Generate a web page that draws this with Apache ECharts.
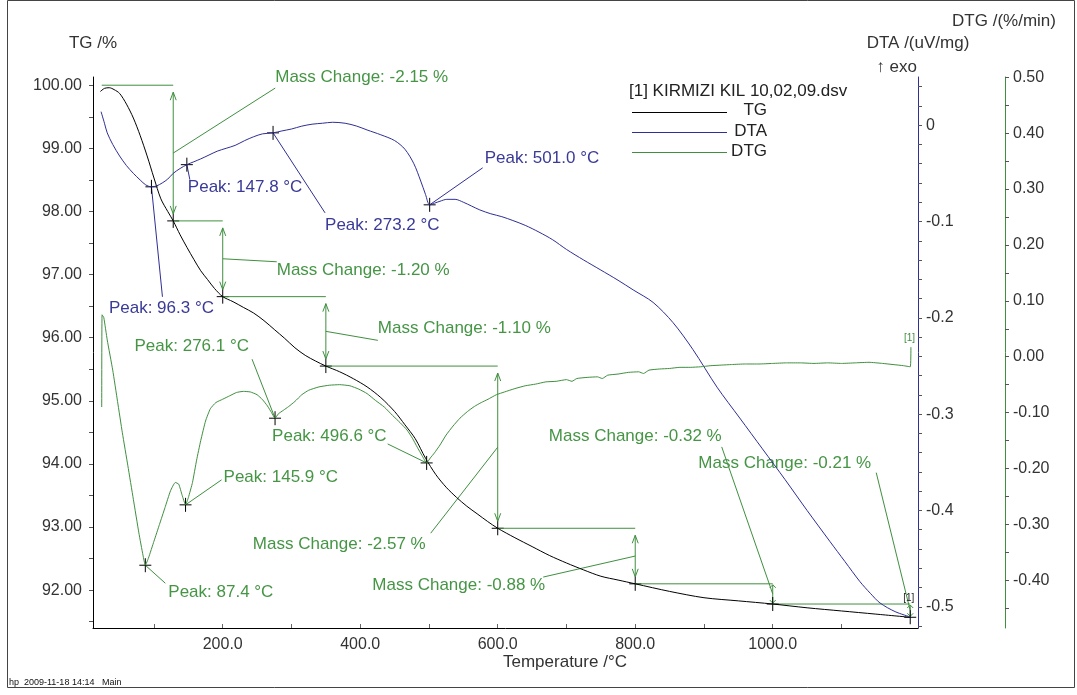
<!DOCTYPE html>
<html>
<head>
<meta charset="utf-8">
<title>KIRMIZI KIL TG / DTA / DTG</title>
<script src="https://cdn.jsdelivr.net/npm/echarts@6/dist/echarts.min.js"></script>
<style>
  html, body { margin: 0; padding: 0; background: #ffffff; }
  #chart { width: 1077px; height: 695px; }
</style>
</head>
<body>
<div id="chart"></div>
<script>
// ---- Thermal analysis data (temperature in °C) ----
const tgTemp = [22, 28, 35, 42, 50, 60, 70, 80, 90, 100, 110, 120, 128, 138, 148, 158, 168, 178, 188, 200,
  215, 230, 245, 260, 275, 290, 305, 320, 335, 350, 370, 390, 410, 430, 450, 465, 480, 495, 510, 525,
  540, 555, 570, 585, 600, 625, 650, 675, 700, 725, 750, 775, 800, 850, 900, 950, 1000, 1050, 1100, 1150, 1200];
const tgValue = [99.90, 99.95, 99.96, 99.93, 99.87, 99.70, 99.48, 99.20, 98.88, 98.53, 98.20, 98.00, 97.85, 97.63, 97.43, 97.24, 97.06, 96.92, 96.78, 96.65,
  96.57, 96.48, 96.39, 96.27, 96.13, 95.99, 95.84, 95.72, 95.63, 95.55, 95.46, 95.35, 95.22, 95.05, 94.83, 94.62, 94.40, 94.09, 93.83, 93.63,
  93.47, 93.33, 93.21, 93.09, 92.98, 92.83, 92.69, 92.55, 92.43, 92.32, 92.22, 92.16, 92.10, 91.98, 91.88, 91.83, 91.78, 91.72, 91.67, 91.62, 91.57];

const dtaTemp = [23, 28, 32, 40, 50, 60, 70, 80, 88, 96.3, 104, 112, 120, 128, 138, 147.8, 158, 168, 180, 192,
  205, 218, 232, 245, 258, 273.2, 286, 300, 315, 330, 345, 360, 378, 395, 410, 430, 450, 465, 478, 488,
  495, 501.0, 508, 516, 526, 538, 550, 562, 574, 590, 606, 622, 640, 660, 680, 700, 725, 749, 775, 797,
  826, 855, 884, 919, 952, 985, 1018, 1050, 1083, 1105, 1127, 1142, 1156, 1178, 1200];
const dtaValue = [0.014, 0.002, -0.008, -0.020, -0.032, -0.042, -0.050, -0.057, -0.062, -0.064, -0.063, -0.060, -0.056, -0.050, -0.045, -0.041, -0.038, -0.035, -0.031, -0.027,
  -0.024, -0.021, -0.016, -0.012, -0.009, -0.008, -0.006, -0.004, -0.001, 0.001, 0.002, 0.003, 0.002, -0.001, -0.005, -0.010, -0.016, -0.025, -0.040, -0.058,
  -0.072, -0.0827, -0.081, -0.079, -0.077, -0.077, -0.080, -0.084, -0.088, -0.092, -0.095, -0.099, -0.104, -0.111, -0.119, -0.129, -0.140, -0.150, -0.161, -0.171,
  -0.184, -0.205, -0.233, -0.272, -0.304, -0.336, -0.368, -0.400, -0.432, -0.453, -0.474, -0.486, -0.496, -0.505, -0.5105];

const dtgTemp = [24, 24.5, 27, 32, 40, 47, 54, 62, 70, 78, 84, 87.4, 92, 100, 108, 116, 124, 131, 136, 141,
  145.9, 150, 156, 162, 168, 175, 182, 190, 200, 210, 220, 230, 240, 250, 258, 265, 271, 276.1, 281, 288,
  296, 305, 315, 325, 340, 355, 370, 385, 398, 410, 422, 435, 447, 458, 468, 476, 483, 490, 496.6, 502,
  508, 516, 525, 535, 545, 556, 566, 576, 586, 598, 610, 625, 640, 655, 670, 685, 700, 708, 715, 730,
  745, 752, 760, 775, 790, 805, 812, 820, 835, 850, 865, 880, 895, 910, 925, 940, 960, 980, 1000, 1020,
  1040, 1060, 1080, 1100, 1120, 1140, 1160, 1175, 1190, 1200, 1201];
const dtgValue = [-0.090, 0.075, 0.070, 0.030, -0.024, -0.080, -0.136, -0.195, -0.255, -0.315, -0.355, -0.373, -0.360, -0.330, -0.300, -0.270, -0.240, -0.225, -0.228, -0.248,
  -0.265, -0.252, -0.225, -0.185, -0.150, -0.115, -0.093, -0.082, -0.076, -0.070, -0.064, -0.062, -0.063, -0.068, -0.077, -0.088, -0.100, -0.110, -0.102, -0.096,
  -0.089, -0.080, -0.068, -0.060, -0.054, -0.051, -0.050, -0.052, -0.058, -0.066, -0.078, -0.090, -0.105, -0.118, -0.131, -0.146, -0.162, -0.177, -0.190, -0.181,
  -0.172, -0.158, -0.140, -0.124, -0.110, -0.098, -0.089, -0.082, -0.076, -0.068, -0.063, -0.057, -0.052, -0.049, -0.045, -0.044, -0.041, -0.044, -0.039, -0.037,
  -0.036, -0.039, -0.033, -0.031, -0.028, -0.027, -0.030, -0.024, -0.022, -0.021, -0.019, -0.019, -0.018, -0.016, -0.015, -0.014, -0.013, -0.013, -0.012, -0.011,
  -0.011, -0.012, -0.011, -0.012, -0.011, -0.010, -0.012, -0.014, -0.016, -0.018, 0.017];

// ---- Evaluation results ----
const stepTemps = [24, 128, 200, 350, 600, 800, 1000, 1200];
const startMass = 100.00;
const massChanges = [-2.15, -1.20, -1.10, -2.57, -0.88, -0.32, -0.21];
const dtaPeaks = [96.3, 147.8, 273.2, 501.0];
const dtgPeaks = [87.4, 145.9, 276.1, 496.6];

// ---- Axis ticks and labels ----
const xLabelValues = [200, 400, 600, 800, 1000];
const xTickValues = [100, 200, 300, 400, 500, 600, 700, 800, 900, 1000, 1100];
const tgLabelValues = [92, 93, 94, 95, 96, 97, 98, 99, 100];
const dtaLabelValues = [0, -0.1, -0.2, -0.3, -0.4, -0.5];
const dtgLabelValues = [0.5, 0.4, 0.3, 0.2, 0.1, 0, -0.1, -0.2, -0.3, -0.4];

// ---- Colours & fonts ----
const BLACK = '#000000';
const GREEN = '#3f8f3f';
const GREEN_TEXT = '#459545';
const BLUE = '#2f2f95';
const BLUE_TEXT = '#3a3a98';
const AXIS_TEXT = '#333333';
const FONT = '"Liberation Sans", Arial, sans-serif';

// mass level after each step
const levels = [startMass];
massChanges.forEach(c => levels.push(Math.round((levels[levels.length - 1] + c) * 100) / 100));

const pairs = (xs, ys) => xs.map((x, i) => [x, ys[i]]);
const lookup = (xs, ys, x) => ys[xs.indexOf(x)];
const range = (a, b, step) => { const out = []; for (let k = a; k <= b; k++) out.push(Math.round(k * step * 1000) / 1000); return out; };

// leader-line and caption placement (pixel offsets)
const massLayout = [
  { lead: [102, -65], text: [0, -11], align: 'left' },
  { lead: [54, 3], text: [0, 9], align: 'left' },
  { lead: [52, 9], text: [0, -12], align: 'left' },
  { lead: [-67, 86], text: [-5, 11], align: 'right' },
  { lead: [-92, 21], text: [2, 8], align: 'right' },
  { lead: [-51, -147], text: [0, -11], align: 'right' },
  { lead: [-34, -138], text: [-5, -9], align: 'right' }
];
const dtaLayout = [
  { lead: [11, 110], text: [-1, 11], align: 'center' },
  { lead: [3, 15], text: [-2, 8], align: 'left' },
  { lead: [52, 80], text: [0, 12], align: 'left' },
  { lead: [53, -37], text: [2, -10], align: 'left' }
];
const dtgLayout = [
  { lead: [20, 18], text: [3, 9], align: 'left' },
  { lead: [36, -25], text: [2, -3], align: 'left' },
  { lead: [-23, -59], text: [-3, -13], align: 'right' },
  { lead: [-39, -19], text: [-1, -8], align: 'right' }
];

function seg(x1, y1, x2, y2, color) {
  return { type: 'line', shape: { x1, y1, x2, y2 }, style: { stroke: color, lineWidth: 1 } };
}
function poly(points, color) {
  return { type: 'polyline', shape: { points }, style: { stroke: color, lineWidth: 1, fill: null } };
}
function txt(x, y, text, color, align) {
  return { type: 'text', x, y, style: { text, fill: color, font: '17px ' + FONT, align, verticalAlign: 'middle' } };
}
function cross(p) {
  return [seg(p[0] - 6, p[1], p[0] + 6, p[1], BLACK), seg(p[0], p[1] - 7, p[0], p[1] + 7, BLACK)];
}

function renderMassStep(params, api) {
  const i = params.dataIndex;
  const a = api.coord([stepTemps[i], levels[i]]);
  const b = api.coord([stepTemps[i + 1], levels[i]]);
  const c = api.coord([stepTemps[i + 1], levels[i + 1]]);
  const kids = [seg(a[0], a[1], b[0], b[1], GREEN)];
  const len = c[1] - b[1];
  const gap = len > 30 ? 7 : 1;
  const head = len > 30 ? 8 : 3;
  const x = b[0], yTop = b[1] + gap, yBot = c[1] - gap;
  kids.push(seg(x, yTop, x, yBot, GREEN));
  kids.push(poly([[x - 3, yTop + head], [x, yTop], [x + 3, yTop + head]], GREEN));
  kids.push(poly([[x - 3, yBot - head], [x, yBot], [x + 3, yBot - head]], GREEN));
  const L = massLayout[i];
  const mid = [x, (b[1] + c[1]) / 2];
  const end = [mid[0] + L.lead[0], mid[1] + L.lead[1]];
  kids.push(seg(mid[0], mid[1], end[0], end[1], GREEN));
  kids.push(txt(end[0] + L.text[0], end[1] + L.text[1], 'Mass Change: ' + massChanges[i].toFixed(2) + ' %', GREEN_TEXT, L.align));
  kids.push(...cross(c));
  return { type: 'group', children: kids };
}

function peakRenderer(temps, curveT, curveV, layout, color, textColor) {
  return function (params, api) {
    const i = params.dataIndex;
    const p = api.coord([temps[i], lookup(curveT, curveV, temps[i])]);
    const L = layout[i];
    const end = [p[0] + L.lead[0], p[1] + L.lead[1]];
    return {
      type: 'group',
      children: [
        seg(p[0], p[1], end[0], end[1], color),
        ...cross(p),
        txt(end[0] + L.text[0], end[1] + L.text[1], 'Peak: ' + temps[i].toFixed(1) + ' °C', textColor, L.align)
      ]
    };
  };
}

const chart = echarts.init(document.getElementById('chart'), null, { renderer: 'canvas' });

const option = {
  animation: false,
  backgroundColor: '#ffffff',
  textStyle: { fontFamily: FONT },
  grid: { left: 93, right: 159, top: 77, bottom: 67, containLabel: false, outerBoundsMode: 'none' },
  xAxis: {
    type: 'value', min: 11.3, max: 1211.3,
    axisLine: { show: true, onZero: false, lineStyle: { color: BLACK, width: 1 } },
    axisTick: { show: true, inside: true, length: 4, customValues: xTickValues, lineStyle: { color: '#666666' } },
    axisLabel: { customValues: xLabelValues, formatter: v => v.toFixed(1), color: AXIS_TEXT, fontSize: 16, margin: 9, fontFamily: FONT },
    splitLine: { show: false }
  },
  yAxis: [
    {
      type: 'value', position: 'left', min: 91.40, max: 100.13,
      axisLine: { show: true, onZero: false, lineStyle: { color: BLACK, width: 1 } },
      axisTick: { show: true, length: 4, customValues: range(183, 200, 0.5), lineStyle: { color: '#555555' } },
      axisLabel: { customValues: tgLabelValues, formatter: v => v.toFixed(2), color: AXIS_TEXT, fontSize: 16, margin: 11, fontFamily: FONT },
      splitLine: { show: false }
    },
    {
      type: 'value', position: 'right', offset: 0, min: -0.522, max: 0.050,
      axisLine: { show: true, onZero: false, lineStyle: { color: BLUE, width: 1 } },
      axisTick: { show: true, length: 4, customValues: range(-26, 2, 0.02), lineStyle: { color: '#555555' } },
      axisLabel: { customValues: dtaLabelValues, formatter: v => (Math.abs(v) < 1e-9 ? '0' : v.toFixed(1)), color: AXIS_TEXT, fontSize: 16, margin: 8, fontFamily: FONT },
      splitLine: { show: false }
    },
    {
      type: 'value', position: 'right', offset: 87, min: -0.4853, max: 0.5004,
      axisLine: { show: true, onZero: false, lineStyle: { color: GREEN, width: 1 } },
      axisTick: { show: true, length: 4, customValues: range(-9, 10, 0.05), lineStyle: { color: '#555555' } },
      axisLabel: { customValues: dtgLabelValues, formatter: v => (Math.abs(v) < 1e-9 ? '0.00' : v.toFixed(2)), color: AXIS_TEXT, fontSize: 16, margin: 8, fontFamily: FONT },
      splitLine: { show: false }
    }
  ],
  series: [
    {
      name: 'TG', type: 'line', yAxisIndex: 0, data: pairs(tgTemp, tgValue),
      showSymbol: false, smooth: 0.3, lineStyle: { color: BLACK, width: 1 }, itemStyle: { color: BLACK },
      endLabel: { show: true, formatter: '[1]', color: '#222222', fontSize: 10, offset: [-15, -19] }
    },
    {
      name: 'DTA', type: 'line', yAxisIndex: 1, data: pairs(dtaTemp, dtaValue),
      showSymbol: false, smooth: 0.3, lineStyle: { color: BLUE, width: 1 }, itemStyle: { color: BLUE }
    },
    {
      name: 'DTG', type: 'line', yAxisIndex: 2, data: pairs(dtgTemp, dtgValue),
      showSymbol: false, smooth: 0.15, lineStyle: { color: GREEN, width: 1 }, itemStyle: { color: GREEN },
      endLabel: { show: true, formatter: '[1]', color: GREEN, fontSize: 10, offset: [-15, -9] }
    },
    {
      name: 'Mass change', type: 'custom', yAxisIndex: 0, silent: true,
      data: massChanges.map((c, i) => [stepTemps[i + 1], levels[i + 1]]),
      renderItem: renderMassStep
    },
    {
      name: 'DTA peaks', type: 'custom', yAxisIndex: 1, silent: true,
      data: dtaPeaks.map(t => [t, lookup(dtaTemp, dtaValue, t)]),
      renderItem: peakRenderer(dtaPeaks, dtaTemp, dtaValue, dtaLayout, BLUE, BLUE_TEXT)
    },
    {
      name: 'DTG peaks', type: 'custom', yAxisIndex: 2, silent: true,
      data: dtgPeaks.map(t => [t, lookup(dtgTemp, dtgValue, t)]),
      renderItem: peakRenderer(dtgPeaks, dtgTemp, dtgValue, dtgLayout, GREEN, GREEN_TEXT)
    }
  ],
  graphic: [
    // outer frame
    { type: 'rect', shape: { x: 7.5, y: 0.5, width: 1067, height: 687 }, style: { fill: null, stroke: '#444444', lineWidth: 1 }, silent: true },
    // axis titles
    { type: 'text', x: 93, y: 43, style: { text: 'TG /%', fill: AXIS_TEXT, font: '17px ' + FONT, align: 'center', verticalAlign: 'middle' } },
    { type: 'text', x: 918, y: 43, style: { text: 'DTA /(uV/mg)', fill: AXIS_TEXT, font: '17px ' + FONT, align: 'center', verticalAlign: 'middle' } },
    { type: 'text', x: 917, y: 67, style: { text: '↑ exo', fill: AXIS_TEXT, font: '17px ' + FONT, align: 'right', verticalAlign: 'middle' } },
    { type: 'text', x: 1004, y: 21, style: { text: 'DTG /(%/min)', fill: AXIS_TEXT, font: '17px ' + FONT, align: 'center', verticalAlign: 'middle' } },
    { type: 'text', x: 503, y: 662, style: { text: 'Temperature /°C', fill: AXIS_TEXT, font: '17px ' + FONT, align: 'left', verticalAlign: 'middle' } },
    // legend
    { type: 'text', x: 629, y: 91, style: { text: '[1] KIRMIZI KIL 10,02,09.dsv', fill: '#222222', font: '17px ' + FONT, align: 'left', verticalAlign: 'middle' } },
    { type: 'line', shape: { x1: 632, y1: 112.5, x2: 727, y2: 112.5 }, style: { stroke: BLACK, lineWidth: 1 } },
    { type: 'line', shape: { x1: 632, y1: 132.5, x2: 727, y2: 132.5 }, style: { stroke: BLUE, lineWidth: 1 } },
    { type: 'line', shape: { x1: 632, y1: 152.5, x2: 727, y2: 152.5 }, style: { stroke: GREEN, lineWidth: 1 } },
    { type: 'text', x: 767, y: 110, style: { text: 'TG', fill: '#222222', font: '17px ' + FONT, align: 'right', verticalAlign: 'middle' } },
    { type: 'text', x: 767, y: 131, style: { text: 'DTA', fill: '#222222', font: '17px ' + FONT, align: 'right', verticalAlign: 'middle' } },
    { type: 'text', x: 767, y: 151, style: { text: 'DTG', fill: '#222222', font: '17px ' + FONT, align: 'right', verticalAlign: 'middle' } },
    // footer
    { type: 'text', x: 9, y: 683, style: { text: 'hp  2009-11-18 14:14   Main', fill: '#111111', font: '9px ' + FONT, align: 'left', verticalAlign: 'middle' } }
  ]
};

chart.setOption(option);
</script>
</body>
</html>
